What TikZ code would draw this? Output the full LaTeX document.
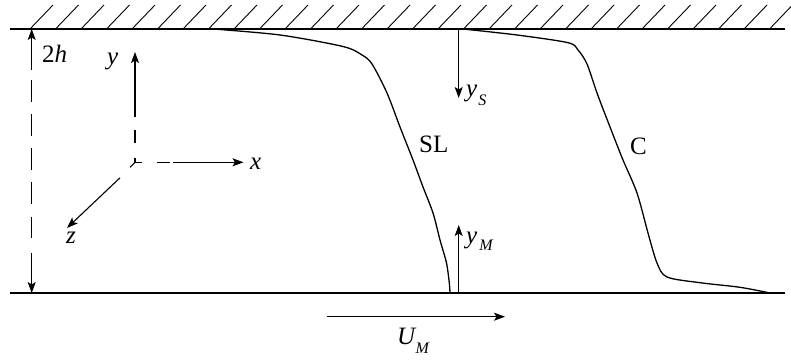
\documentclass[tikz,border=0pt]{standalone}
\usepackage{fontspec}
\setmainfont{Liberation Serif}
\usetikzlibrary{arrows.meta,calc}
\begin{document}
\begin{tikzpicture}[x=1pt,y=-1pt,
  wall/.style={line width=1.8pt},
  hatch/.style={line width=0.9pt},
  prof/.style={line width=1.3pt, line join=round, line cap=round},
  axl/.style={line width=1.1pt},
  arr/.style={line width=1.1pt, -{Stealth[length=11pt,width=8pt,inset=2.5pt]}},
  lbl/.style={font=\fontsize{25}{30}\selectfont, inner sep=0pt, anchor=base west},
]
\useasboundingbox (0,0) rectangle (791,361);
% walls
\coordinate (TL) at (10,29); \coordinate (TR) at (785,29);
\coordinate (BL) at (10,293); \coordinate (BR) at (785,293);
\draw[wall] (TL) -- (TR);
\draw[wall] (BL) -- (BR);
\foreach \i in {0,...,29} \draw[hatch] ({30+25.5*\i},29) -- ({53+25.5*\i},5);
% profiles
\draw[prof] plot[smooth, tension=0.5] coordinates {(213,29) (280,35) (343,46.5) (362,55) (372,64) (387,93) (400,127) (413,160) (423,187) (433,213) (440,240) (446.5,263) (449.3,283) (450,293)};
\draw[prof] plot[smooth, tension=0.5] coordinates {(463,29) (517,35) (568,42.7) (578,50) (587,64) (597,93) (610,127) (623,160) (637,193) (648,233) (657,263) (667,277) (700,282.7) (740,287.3) (770,293)};
% y_S, y_M arrows
\coordinate (ysA) at (458.7,29); \coordinate (ysB) at (458.7,98);
\draw[arr] (ysA) -- (ysB);
\coordinate (ymA) at (458.7,293); \coordinate (ymB) at (458.7,225);
\draw[arr] (ymA) -- (ymB);
% U_M arrow
\coordinate (uA) at (326.7,316.7); \coordinate (uB) at (505,316.7);
\draw[arr] (uA) -- (uB);
% 2h arrow
\coordinate (hT) at (31.7,29); \coordinate (hB) at (31.7,293);
\coordinate (hT2) at (31.7,70); \coordinate (hB2) at (31.7,253.3);
\draw[arr] (hT2) -- (hT);
\draw[arr] (hB2) -- (hB);
\draw[axl, dash pattern=on 21.7pt off 12.45pt] (31.7,80) -- (31.7,238.3);
% axes
\coordinate (O) at (135,162.3);
\draw[axl] (135,158.3) -- (O) -- (141.7,162.3);
\draw[axl] (135,130) -- (135,143.3);
\draw[arr] (135,116.7) -- (135,52);
\draw[axl] (156.7,162.3) -- (170,162.3);
\draw[arr] (173.3,162.3) -- (243.5,162.3);
\draw[axl] (O) -- ($(O)+(-5,5)$);
\draw[arr] ($(O)+(-15,15.5)$) -- (67,228);
% labels
\node[lbl] (h2) at (42,62) {2\textit{h}};
\node[lbl] (ly) at (107,64) {\textit{y}};
\node[lbl] (lx) at (250,169) {\textit{x}};
\node[lbl] (lz) at (66,243) {\textit{z}};
\node[lbl] (lSL) at (419,152.5) {SL};
\node[lbl] (lC) at (630,154) {C};
\node[lbl] (lys) at (466,96) {\textit{y}\kern1pt\raisebox{-9pt}{\fontsize{16}{16}\selectfont\textit{S}}};
\node[lbl] (lym) at (466,243) {\textit{y}\kern2pt\raisebox{-7pt}{\fontsize{16}{16}\selectfont\textit{M}}};
\node[lbl] (lum) at (397,344) {\textit{U}\kern-1pt\raisebox{-9pt}{\fontsize{16}{16}\selectfont\textit{M}}};
\end{tikzpicture}
\end{document}
